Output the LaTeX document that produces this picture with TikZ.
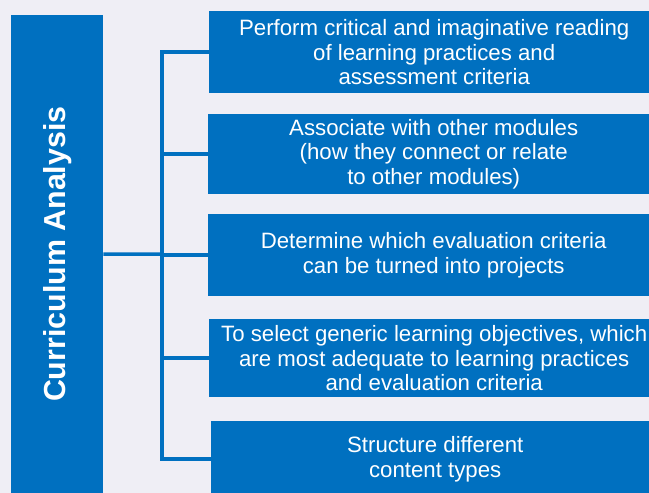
\documentclass[tikz,border=0pt]{standalone}
\usepackage{fontspec}
\setmainfont{Liberation Sans}
\usetikzlibrary{positioning}
\definecolor{boxblue}{HTML}{0070C0}
\definecolor{pagebg}{HTML}{EFEEF5}

\begin{document}
\begin{tikzpicture}[x=1bp,y=-1bp,
    item/.style={fill=boxblue,text=white,anchor=north west,align=center,inner sep=0pt,minimum width=450bp,font=\fontsize{22.3}{24.8}\selectfont},
    link/.style={draw=boxblue,line width=3.5bp}]
  \clip (0,0) rectangle (649,493);
  \fill[pagebg] (0,0) rectangle (649,493);

  % left bar
  \node[fill=boxblue,anchor=north west,minimum width=92bp,minimum height=478bp,inner sep=0pt] (bar) at (11,15) {};
  \node[rotate=90,text=white,font=\fontsize{30.5}{36}\selectfont\bfseries] (title) at (bar.center) {Curriculum Analysis};

  % boxes
  \node[item,minimum height=82bp] (b1) at (209,11) {Perform critical and imaginative reading\\of learning practices and\\assessment criteria};
  \node[item,minimum height=80bp,minimum width=451bp] (b2) at (208,114) {Associate with other modules\\(how they connect or relate\\to other modules)};
  \node[item,minimum height=82bp,minimum width=451bp] (b3) at (208,214) {Determine which evaluation criteria\\can be turned into projects};
  \node[item,minimum height=78bp] (b4) at (209,319) {To select generic learning objectives, which\\are most adequate to learning practices\\and evaluation criteria};
  \node[item,minimum height=76bp,minimum width=448bp] (b5) at (211,421) {Structure different\\content types};

  % connectors
  \coordinate (trunk) at (162,254);
  \draw[link] (bar.east) -- (trunk);
  \foreach \b in {b1,b2,b3,b4,b5}
    \draw[link] (trunk) |- (\b.west);
\end{tikzpicture}
\end{document}
